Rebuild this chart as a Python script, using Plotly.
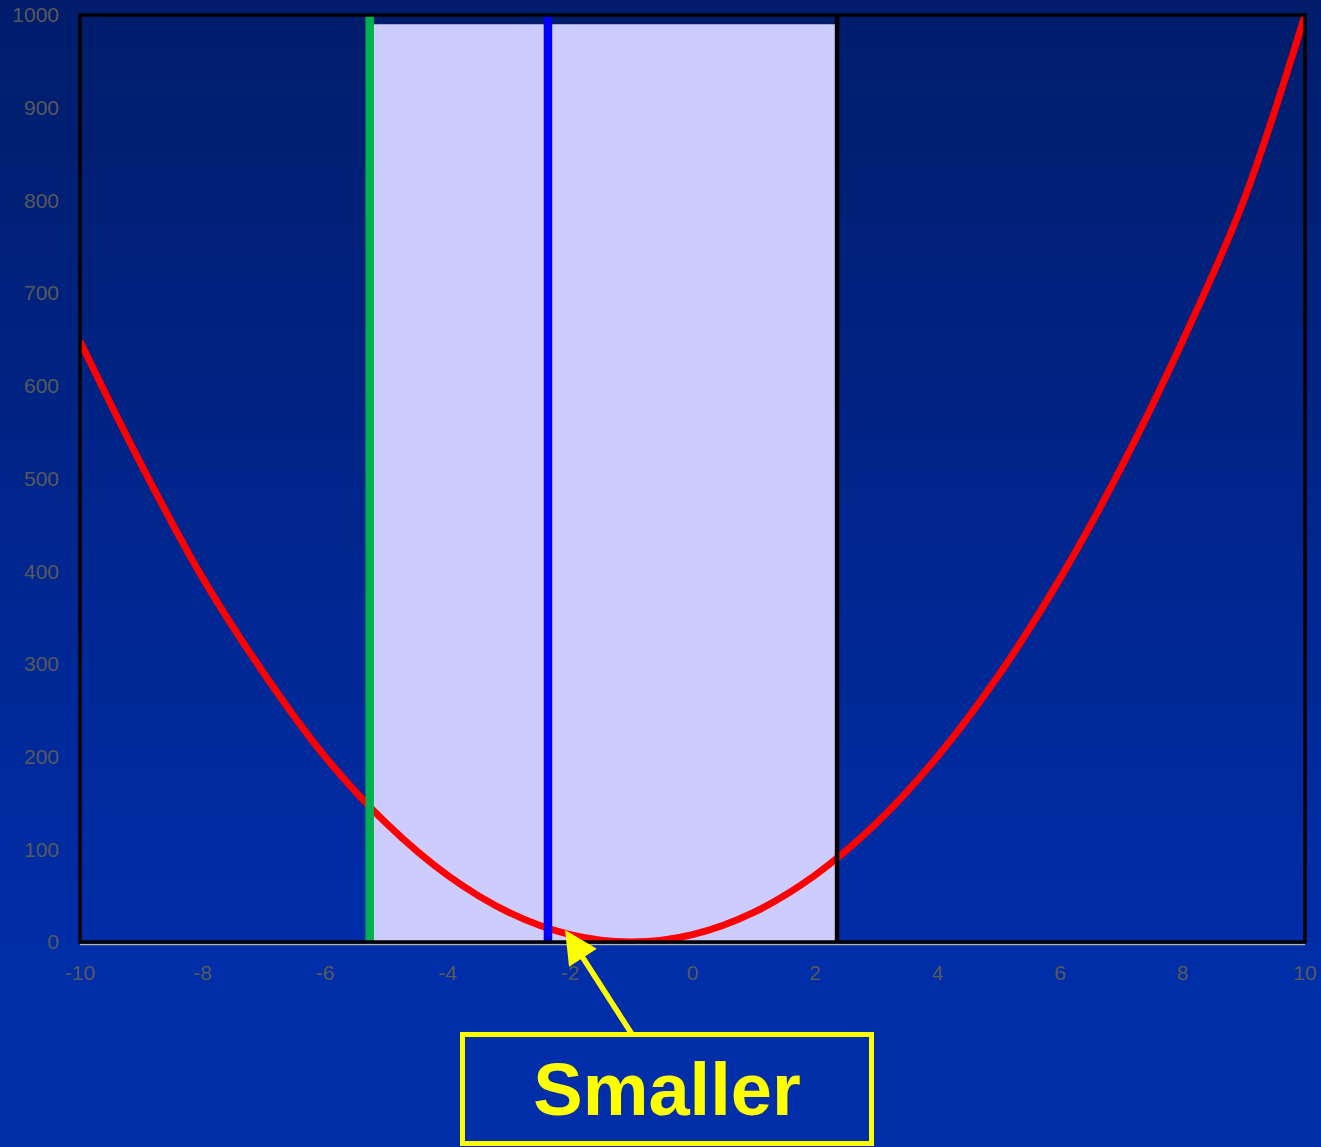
import plotly.graph_objects as go

# Objective curve sampled at integer x
x_vals = [-10, -9, -8, -7, -6, -5, -4, -3, -2, -1, 0, 1, 2, 3, 4, 5, 6, 7, 8, 9, 10]
y_vals = [648, 515, 393, 290, 200, 128, 72, 32, 8, 0, 8, 32, 72, 128, 200, 288, 392, 512, 648, 800, 1000]

# Search bracket and trial points
bracket_left = -5.27
trial_point = -2.36
bracket_right = 2.36
bracket_top = 990

x_ticks = [-10, -8, -6, -4, -2, 0, 2, 4, 6, 8, 10]
y_ticks = [0, 100, 200, 300, 400, 500, 600, 700, 800, 900, 1000]

# Arrow target for the label
label_text = "Smaller"
label_x = -2.08
label_y = 13

W, H = 1321, 1147
M_L, M_R, M_T, M_B = 80, 16, 15, 205
plot_h = H - M_T - M_B

fig = go.Figure()

fig.add_trace(go.Scatter(
    x=x_vals, y=y_vals, mode="lines",
    line=dict(color="#FF0000", width=7, shape="spline", smoothing=1.0),
    hoverinfo="skip", showlegend=False,
))

for xv, col, w in [(bracket_left, "#00B050", 8.5), (trial_point, "#0000FF", 8.5), (bracket_right, "#000000", 4.5)]:
    fig.add_trace(go.Scatter(
        x=[xv, xv], y=[y_ticks[0], y_ticks[-1]], mode="lines",
        line=dict(color=col, width=w), hoverinfo="skip", showlegend=False,
    ))

shapes = []

# Vertical background gradient, dark navy at top to brighter blue at the axis
top_rgb = (0, 28, 106)
bot_rgb = (0, 45, 168)
n_strips = 60
grad_end_px = H - M_B
def px_to_paper(p):
    return (H - M_B - p) / plot_h

for i in range(n_strips):
    p0 = grad_end_px * i / n_strips
    p1 = grad_end_px * (i + 1) / n_strips + 1
    if i == 0:
        p0 = -30
    t = (i + 0.5) / n_strips
    c = tuple(round(a + (b - a) * t) for a, b in zip(top_rgb, bot_rgb))
    shapes.append(dict(
        type="rect", xref="paper", yref="paper", x0=-1, x1=2,
        y0=px_to_paper(p1), y1=px_to_paper(p0),
        fillcolor="rgb(%d,%d,%d)" % c, line=dict(width=0), layer="below",
    ))
shapes.append(dict(
    type="rect", xref="paper", yref="paper", x0=-1, x1=2,
    y0=px_to_paper(H + 30), y1=px_to_paper(grad_end_px),
    fillcolor="rgb(%d,%d,%d)" % bot_rgb, line=dict(width=0), layer="below",
))

# Shaded bracket
shapes.append(dict(
    type="rect", xref="x", yref="y", x0=bracket_left, x1=bracket_right,
    y0=0, y1=bracket_top, fillcolor="#CCCCFF", line=dict(width=0), layer="below",
))

# Plot frame and light axis rule
shapes.append(dict(
    type="line", xref="paper", yref="paper", x0=0, x1=1,
    y0=-2.5 / plot_h, y1=-2.5 / plot_h, line=dict(color="#B0B0B0", width=1.5), layer="above",
))
shapes.append(dict(
    type="rect", xref="paper", yref="paper", x0=0, x1=1, y0=0, y1=1,
    line=dict(color="#000000", width=3.5), fillcolor="rgba(0,0,0,0)", layer="above",
))

fig.update_layout(
    width=W, height=H,
    margin=dict(l=M_L, r=M_R, t=M_T, b=M_B),
    paper_bgcolor="rgb(0,45,168)",
    plot_bgcolor="rgba(0,0,0,0)",
    shapes=shapes,
    showlegend=False,
    font=dict(family="Liberation Sans, Arial, sans-serif", size=21, color="#595959"),
    xaxis=dict(
        range=[-10, 10], tickvals=x_ticks, ticktext=[str(v) for v in x_ticks],
        showgrid=False, zeroline=False, showline=False, ticks="",
        ticklabelstandoff=16, automargin=False,
        tickfont=dict(size=21, color="#595959"),
    ),
    yaxis=dict(
        range=[0, 1000], tickvals=y_ticks, ticktext=[str(v) for v in y_ticks],
        showgrid=False, zeroline=False, showline=False, ticks="",
        ticklabelstandoff=20, automargin=False,
        tickfont=dict(size=21, color="#595959"),
    ),
    annotations=[dict(
        x=label_x, y=label_y, xref="x", yref="y",
        ax=102, ay=159,
        text="<b>%s</b>" % label_text,
        font=dict(family="Liberation Sans, Arial, sans-serif", size=74, color="#FFFF00"),
        showarrow=True, arrowhead=2, arrowsize=1.2, arrowwidth=5.5, arrowcolor="#FFFF00",
        standoff=0,
        bordercolor="#FFFF00", borderwidth=5, borderpad=0,
        width=404, height=104, bgcolor="rgba(0,0,0,0)",
    )],
)

fig.write_html("out.html")
